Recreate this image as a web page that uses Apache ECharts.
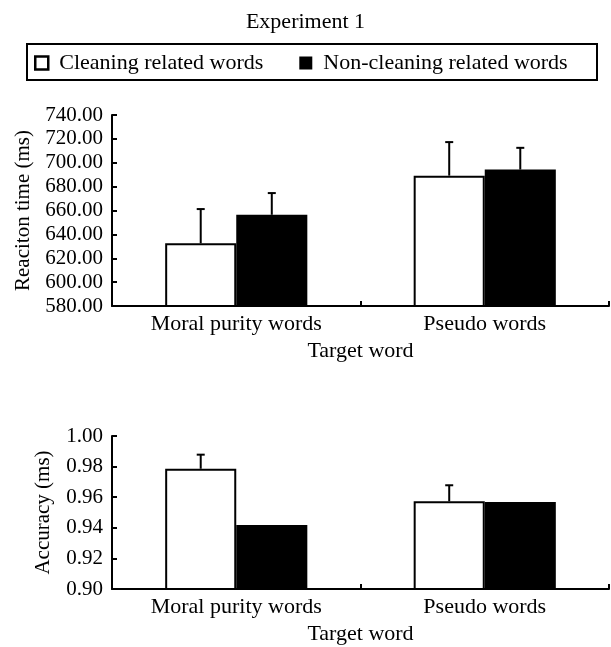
<!DOCTYPE html>
<html>
<head>
<meta charset="utf-8">
<script src="https://cdn.jsdelivr.net/npm/echarts@6/dist/echarts.min.js"></script>
<style>
html,body{margin:0;padding:0;background:#fff;}
#chart{width:611px;height:647px;}
</style>
</head>
<body>
<div id="chart"></div>
<script>
// ---- data ----
var categories = ['Moral purity words', 'Pseudo words'];
var seriesNames = ['Cleaning related words', 'Non-cleaning related words'];
var rtCleaning = [632.5, 689.2];
var rtCleaningErr = [28.7, 28.1];
var rtNonCleaning = [656.4, 694.3];
var rtNonCleaningErr = [18.2, 18.2];
var accCleaning = [0.9786, 0.9573];
var accCleaningErr = [0.0092, 0.0105];
var accNonCleaning = [0.9418, 0.9569];
var accNonCleaningErr = [0, 0];
var rtTicks = [580, 600, 620, 640, 660, 680, 700, 720, 740];
var accTicks = [0.90, 0.92, 0.94, 0.96, 0.98, 1.00];

var FONT = "'Liberation Serif', 'Times New Roman', serif";
var chart = echarts.init(document.getElementById('chart'));

var BAR_RATIO = 0.286;

function errSeries(name, values, errs, xIdx, yIdx, side) {
  var data = values.map(function (v, i) { return [i, v, errs[i]]; });
  return {
    type: 'custom',
    name: name + ' err',
    xAxisIndex: xIdx,
    yAxisIndex: yIdx,
    z: 5,
    silent: true,
    data: data,
    renderItem: function (params, api) {
      var idx = api.value(0), v = api.value(1), e = api.value(2);
      if (!e) return null;
      var catW = api.size([1, 0])[0];
      var bw = catW * BAR_RATIO;
      var base = api.coord([idx, v]);
      var top = api.coord([idx, v + e]);
      var x = base[0] + side * bw / 2;
      var style = { stroke: '#000', lineWidth: 2 };
      return {
        type: 'group',
        children: [
          { type: 'line', shape: { x1: x, y1: base[1], x2: x, y2: top[1] }, style: style },
          { type: 'line', shape: { x1: x - 4, y1: top[1], x2: x + 4, y2: top[1] }, style: style }
        ]
      };
    }
  };
}

function mkX(gridIndex) {
  return {
    type: 'category', gridIndex: gridIndex, data: categories,
    name: 'Target word', nameLocation: 'middle', nameGap: 34,
    nameTextStyle: { fontFamily: FONT, fontSize: 22, color: '#000' },
    axisLine: { lineStyle: { color: '#000', width: 2 } },
    axisTick: { show: true, inside: true, length: 5, lineStyle: { color: '#000', width: 2 } },
    axisLabel: { fontFamily: FONT, fontSize: 22, color: '#000', margin: 7 },
    splitLine: { show: false }
  };
}

function mkY(gridIndex, name, ticks, gap) {
  var interval = +(ticks[1] - ticks[0]).toFixed(4);
  return {
    type: 'value', gridIndex: gridIndex,
    min: ticks[0], max: ticks[ticks.length - 1], interval: interval,
    name: name, nameLocation: 'middle', nameGap: gap,
    nameTextStyle: { fontFamily: FONT, fontSize: 21, color: '#000' },
    axisLine: { show: true, lineStyle: { color: '#000', width: 2 } },
    axisTick: { show: true, inside: true, length: 5, lineStyle: { color: '#000', width: 2 } },
    axisLabel: {
      fontFamily: FONT, fontSize: 21, color: '#000', margin: 9,
      formatter: function (v) { return (+v).toFixed(2); }
    },
    splitLine: { show: false }
  };
}

var whiteStyle = { color: '#fff', borderColor: '#000', borderWidth: 2 };
var blackStyle = { color: '#000', borderColor: '#000', borderWidth: 0 };

var option = {
  backgroundColor: '#fff',
  animation: false,
  title: {
    text: 'Experiment 1', left: 'center', top: 6,
    textStyle: { fontFamily: FONT, fontSize: 22, fontWeight: 'normal', color: '#000' }
  },
  graphic: [
    { type: 'rect', shape: { x: 27, y: 44, width: 570, height: 36 },
      style: { fill: 'none', stroke: '#000', lineWidth: 2 }, z: 10 }
  ],
  legend: {
    data: [
      { name: seriesNames[0], icon: 'rect', itemStyle: { color: '#fff', borderColor: '#000', borderWidth: 2.5 } },
      { name: seriesNames[1], icon: 'rect', itemStyle: { color: '#000' } }
    ],
    left: 34, top: 52, padding: 0, itemWidth: 13, itemHeight: 13, itemGap: 36,
    textStyle: { fontFamily: FONT, fontSize: 22, color: '#000', padding: [0, 0, 0, 6] },
    selectedMode: false
  },
  grid: [
    { left: 112, right: 2, top: 115, bottom: 341 },
    { left: 112, right: 2, top: 436, bottom: 58 }
  ],
  xAxis: [mkX(0), mkX(1)],
  yAxis: [mkY(0, 'Reaciton time (ms)', rtTicks, 78), mkY(1, 'Accuracy (ms)', accTicks, 58)],
  series: [
    { type: 'bar', name: seriesNames[0], xAxisIndex: 0, yAxisIndex: 0, data: rtCleaning,
      barWidth: (BAR_RATIO * 100) + '%', barGap: '0%', itemStyle: whiteStyle },
    { type: 'bar', name: seriesNames[1], xAxisIndex: 0, yAxisIndex: 0, data: rtNonCleaning,
      barWidth: (BAR_RATIO * 100) + '%', barGap: '0%', itemStyle: blackStyle },
    { type: 'bar', name: seriesNames[0], xAxisIndex: 1, yAxisIndex: 1, data: accCleaning,
      barWidth: (BAR_RATIO * 100) + '%', barGap: '0%', itemStyle: whiteStyle },
    { type: 'bar', name: seriesNames[1], xAxisIndex: 1, yAxisIndex: 1, data: accNonCleaning,
      barWidth: (BAR_RATIO * 100) + '%', barGap: '0%', itemStyle: blackStyle },
    errSeries('rtC', rtCleaning, rtCleaningErr, 0, 0, -1),
    errSeries('rtN', rtNonCleaning, rtNonCleaningErr, 0, 0, 1),
    errSeries('accC', accCleaning, accCleaningErr, 1, 1, -1),
    errSeries('accN', accNonCleaning, accNonCleaningErr, 1, 1, 1)
  ]
};
chart.setOption(option);
</script>
</body>
</html>
